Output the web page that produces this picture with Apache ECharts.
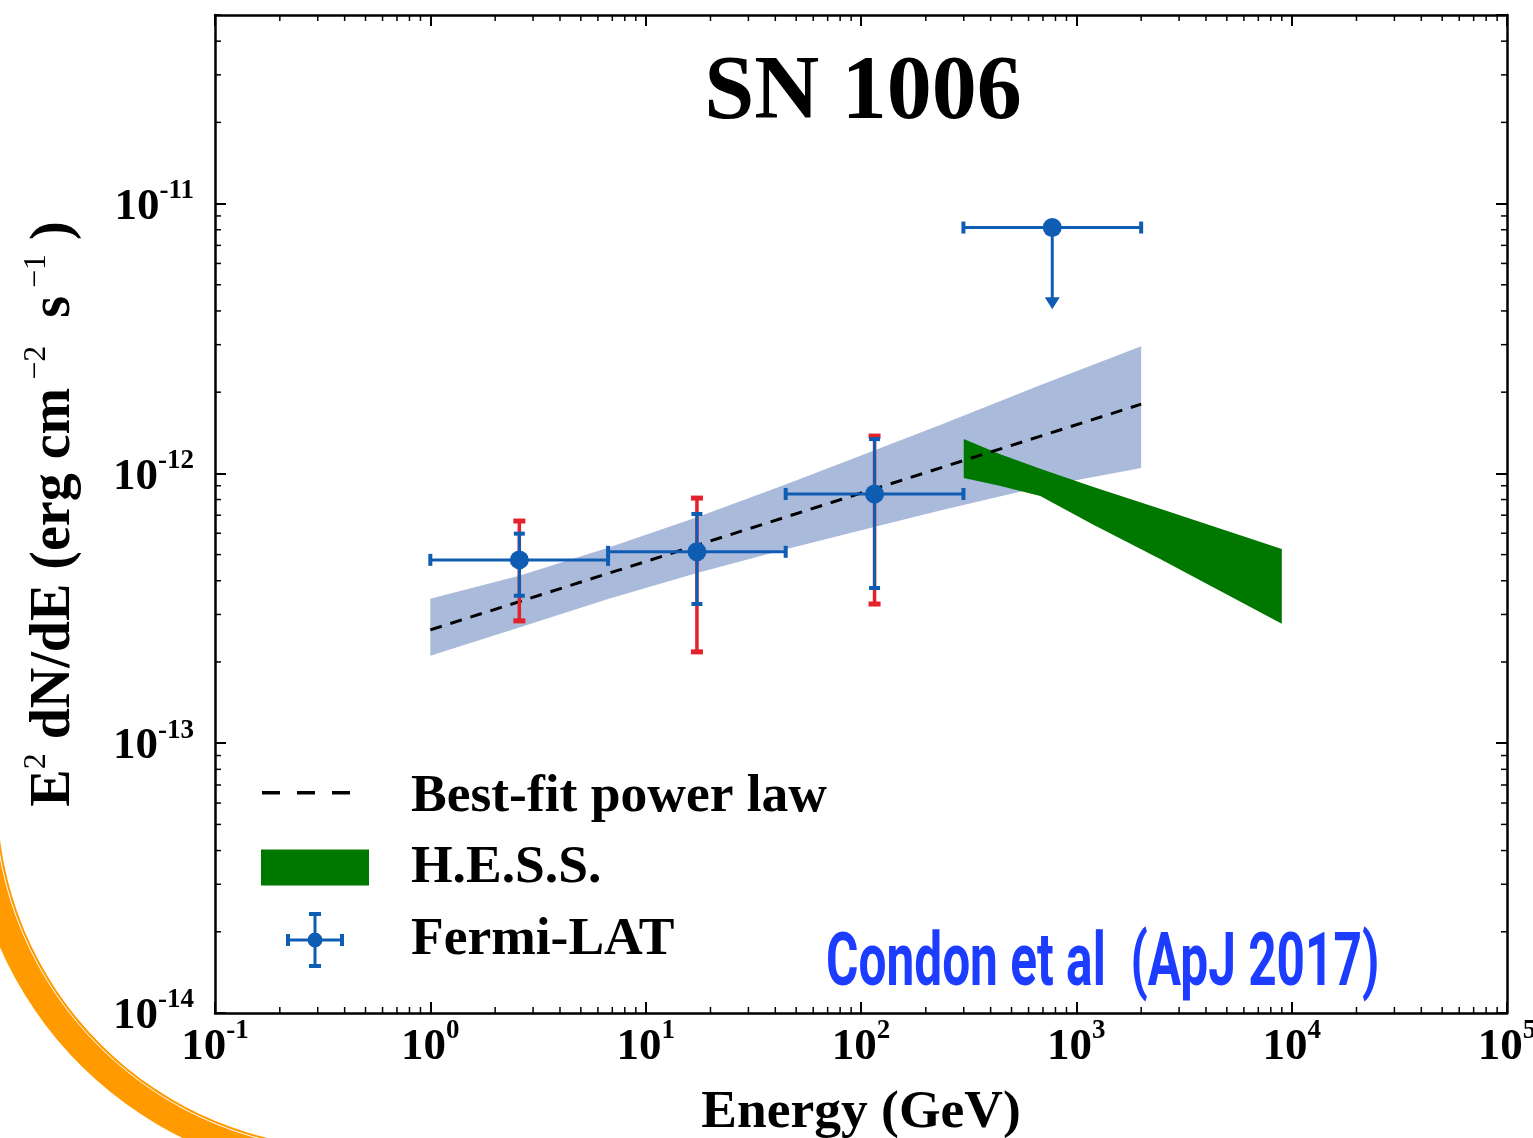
<!DOCTYPE html>
<html>
<head>
<meta charset="utf-8">
<title>SN 1006</title>
<script src="https://cdn.jsdelivr.net/npm/echarts@6/dist/echarts.min.js"></script>
<style>
  html, body { margin: 0; padding: 0; background: #fff; }
  #chart { width: 1533px; height: 1138px; }
</style>
</head>
<body>
<div id="chart"></div>
<script>
// Fermi-LAT flux points, energies in GeV, E^2 dN/dE in erg cm^-2 s^-1
var fermiE = [2.59, 17.3, 115.6];
var fermiElo = [1.0, 6.69, 44.7];
var fermiEhi = [6.69, 44.7, 299];
var fermiF = [4.78e-13, 5.12e-13, 8.39e-13];
var statLo = [3.52e-13, 3.28e-13, 3.76e-13];
var statHi = [5.98e-13, 7.07e-13, 1.34e-12];
var sysLo = [2.84e-13, 2.18e-13, 3.28e-13];
var sysHi = [6.66e-13, 8.10e-13, 1.375e-12];

// upper limit bin
var ulE = [773];
var ulElo = [299];
var ulEhi = [2000];
var ulF = [8.15e-12];
var ulTip = [4.06e-12];

// best-fit power law and its butterfly
var fitE = [1, 2000];
var fitF = [2.63e-13, 1.805e-12];
var bandE = [1, 2.61, 6.69, 17.3, 45.3, 115, 233, 678, 2000];
var bandUp = [3.43e-13, 4.18e-13, 5.30e-13, 6.88e-13, 9.13e-13, 1.215e-12, 1.51e-12, 2.12e-12, 2.96e-12];
var bandLo = [2.11e-13, 2.69e-13, 3.42e-13, 4.27e-13, 5.25e-13, 6.33e-13, 7.28e-13, 8.90e-13, 1.047e-12];

// H.E.S.S. butterfly
var hessE = [300, 440, 680, 1200, 2450, 9000];
var hessUp = [1.34e-12, 1.18e-12, 1.04e-12, 8.9e-13, 7.40e-13, 5.25e-13];
var hessLo = [9.61e-13, 9.0e-13, 8.25e-13, 6.45e-13, 4.82e-13, 2.77e-13];

var X_MIN = 0.1, X_MAX = 1e5, Y_MIN = 1e-14, Y_MAX = 5e-11;

var SERIF = 'Liberation Serif';
var BLUE = '#0f5db3';
var RED = '#e3222b';

// minor ticks at 2..9 x 10^n
var minorX = [], minorY = [];
for (var n = -1; n < 5; n++) {
  for (var k = 2; k < 10; k++) minorX.push(k * Math.pow(10, n));
}
for (var m = -14; m < -10; m++) {
  for (var q = 2; q < 10; q++) {
    var v = q * Math.pow(10, m);
    if (v < Y_MAX) minorY.push(v);
  }
}

var fermiData = fermiE.map(function (e, i) {
  return [e, fermiF[i], fermiElo[i], fermiEhi[i], statLo[i], statHi[i], sysLo[i], sysHi[i]];
});
var ulData = ulE.map(function (e, i) {
  return [e, ulF[i], ulElo[i], ulEhi[i], ulTip[i]];
});

function band(xs, ups, los, color) {
  return function (params, api) {
    var pts = [];
    for (var i = 0; i < xs.length; i++) pts.push(api.coord([xs[i], ups[i]]));
    for (var j = xs.length - 1; j >= 0; j--) pts.push(api.coord([xs[j], los[j]]));
    return { type: 'polygon', shape: { points: pts }, style: { fill: color } };
  };
}

function seg(x1, y1, x2, y2, color, w) {
  return { type: 'line', shape: { x1: x1, y1: y1, x2: x2, y2: y2 }, style: { stroke: color, lineWidth: w } };
}
function box(cx, cy, w, h, color) {
  return { type: 'rect', shape: { x: cx - w / 2, y: cy - h / 2, width: w, height: h }, style: { fill: color } };
}

function renderFermi(params, api) {
  var e = api.value(0), f = api.value(1);
  var c = api.coord([e, f]);
  var xl = api.coord([api.value(2), f])[0];
  var xr = api.coord([api.value(3), f])[0];
  var s0 = api.coord([e, api.value(4)])[1];
  var s1 = api.coord([e, api.value(5)])[1];
  var t0 = api.coord([e, api.value(6)])[1];
  var t1 = api.coord([e, api.value(7)])[1];
  return {
    type: 'group',
    children: [
      seg(c[0], t1, c[0], t0, RED, 3.5),
      box(c[0], t1, 12, 5, RED),
      box(c[0], t0, 12, 5, RED),
      seg(c[0], s1, c[0], s0, BLUE, 3),
      box(c[0], s1, 11, 4, BLUE),
      box(c[0], s0, 11, 4, BLUE),
      seg(xl, c[1], xr, c[1], BLUE, 3),
      box(xl, c[1], 4, 12, BLUE),
      box(xr, c[1], 4, 12, BLUE),
      { type: 'circle', shape: { cx: c[0], cy: c[1], r: 9.5 }, style: { fill: BLUE } }
    ]
  };
}

function renderUL(params, api) {
  var e = api.value(0), f = api.value(1);
  var c = api.coord([e, f]);
  var xl = api.coord([api.value(2), f])[0];
  var xr = api.coord([api.value(3), f])[0];
  var tip = api.coord([e, api.value(4)])[1];
  return {
    type: 'group',
    children: [
      seg(xl, c[1], xr, c[1], BLUE, 3),
      box(xl, c[1], 4, 12, BLUE),
      box(xr, c[1], 4, 12, BLUE),
      seg(c[0], c[1], c[0], tip - 8, BLUE, 3),
      { type: 'polygon', shape: { points: [[c[0] - 7.5, tip - 12], [c[0] + 7.5, tip - 12], [c[0], tip]] }, style: { fill: BLUE } },
      { type: 'circle', shape: { cx: c[0], cy: c[1], r: 9.5 }, style: { fill: BLUE } }
    ]
  };
}

function renderMinor(params, api) {
  var cs = params.coordSys;
  var kids = [];
  minorX.forEach(function (v) {
    var x = api.coord([v, Y_MIN])[0];
    kids.push(seg(x, cs.y + cs.height, x, cs.y + cs.height - 6, '#000', 1.5));
    kids.push(seg(x, cs.y, x, cs.y + 6, '#000', 1.5));
  });
  minorY.forEach(function (v) {
    var y = api.coord([X_MIN, v])[1];
    kids.push(seg(cs.x, y, cs.x + 6, y, '#000', 1.5));
    kids.push(seg(cs.x + cs.width, y, cs.x + cs.width - 6, y, '#000', 1.5));
  });
  return { type: 'group', children: kids };
}

function powLabel(v) {
  return '{b|10}{s|' + Math.round(Math.log10(v)) + '}';
}
var powRich = {
  b: { fontFamily: SERIF, fontWeight: 'bold', fontSize: 45, lineHeight: 52, verticalAlign: 'bottom', color: '#000' },
  s: { fontFamily: SERIF, fontWeight: 'bold', fontSize: 27, lineHeight: 28, verticalAlign: 'top', color: '#000' }
};

var axisLine = { show: true, lineStyle: { color: '#000', width: 2.5 } };
var majorTick = { show: true, inside: true, length: 11, lineStyle: { color: '#000', width: 2 } };

var chart = echarts.init(document.getElementById('chart'));
chart.setOption({
  animation: false,
  backgroundColor: '#fff',
  title: {
    text: 'SN 1006',
    left: 858,
    top: 45,
    textAlign: 'center',
    textStyle: { fontFamily: SERIF, fontWeight: 'bold', fontSize: 90, color: '#000' }
  },
  legend: {
    orient: 'vertical',
    left: 256,
    top: 764,
    itemWidth: 145,
    itemHeight: 56,
    itemGap: 15.5,
    selectedMode: false,
    textStyle: { fontFamily: SERIF, fontWeight: 'bold', fontSize: 53.5, color: '#000' },
    data: [
      {
        name: 'Best-fit power law',
        icon: 'path://M0,0L0,0M145,56L145,56M1,22H19V25.5H1ZM36,22H54V25.5H36ZM71,22H89V25.5H71Z',
        itemStyle: { color: '#000', borderWidth: 0 }
      },
      {
        name: 'H.E.S.S.',
        icon: 'path://M0,0L0,0M145,56L145,56M0,9H108V45H0Z',
        itemStyle: { color: '#007800', borderWidth: 0 }
      },
      {
        name: 'Fermi-LAT',
        icon: 'path://M0,0L0,0M145,56L145,56M26,26.5H82V29.5H26ZM25,22H29V34H25ZM79,22H83V34H79ZM52.5,1H55.5V55H52.5ZM48,0H60V4H48ZM48,52H60V56H48ZM61.5,28A7.5,7.5,0,1,1,46.5,28A7.5,7.5,0,1,1,61.5,28Z',
        itemStyle: { color: BLUE, borderWidth: 0 }
      }
    ]
  },
  grid: { left: 215, right: 26, top: 15, bottom: 125, containLabel: false, outerBoundsMode: 'none' },
  xAxis: [
    {
      type: 'log', min: X_MIN, max: X_MAX, logBase: 10, splitNumber: 6,
      position: 'bottom',
      name: 'Energy (GeV)', nameLocation: 'middle', nameGap: 73,
      nameTextStyle: { fontFamily: SERIF, fontWeight: 'bold', fontSize: 53.5, color: '#000' },
      axisLine: axisLine, axisTick: majorTick, splitLine: { show: false },
      axisLabel: { show: true, margin: 5, formatter: powLabel, rich: powRich }
    },
    {
      type: 'log', min: X_MIN, max: X_MAX, logBase: 10, splitNumber: 6,
      position: 'top',
      axisLine: axisLine, axisTick: majorTick, splitLine: { show: false },
      axisLabel: { show: false }
    }
  ],
  yAxis: [
    {
      type: 'log', min: Y_MIN, max: Y_MAX, logBase: 10,
      position: 'left',
      name: '{b|E}{s|2}{b| dN/dE (erg cm}{s| \u22122}{b|  s}{s| \u22121}{b| )}',
      nameLocation: 'middle', nameGap: 132, nameRotate: 90,
      nameTextStyle: {
        rich: {
          b: { fontFamily: SERIF, fontWeight: 'bold', fontSize: 56, lineHeight: 62, verticalAlign: 'bottom', color: '#000' },
          s: { fontFamily: SERIF, fontSize: 32, lineHeight: 32, verticalAlign: 'top', color: '#000' }
        }
      },
      axisLine: axisLine, axisTick: majorTick, splitLine: { show: false },
      axisLabel: { show: true, margin: 21, formatter: powLabel, rich: powRich, showMaxLabel: false }
    },
    {
      type: 'log', min: Y_MIN, max: Y_MAX, logBase: 10,
      position: 'right',
      axisLine: axisLine, axisTick: majorTick, splitLine: { show: false },
      axisLabel: { show: false }
    }
  ],
  graphic: [
    {
      type: 'sector',
      z: 100,
      silent: true,
      shape: { cx: 351, cy: 794, r0: 354, r: 383, startAngle: Math.PI * 0.45, endAngle: Math.PI },
      style: { fill: '#ff9a00' }
    },
    {
      type: 'arc',
      z: 101,
      silent: true,
      shape: { cx: 351, cy: 794, r: 356.5, startAngle: Math.PI * 0.45, endAngle: Math.PI },
      style: { stroke: '#fff', lineWidth: 1, fill: null }
    },
    {
      type: 'text',
      z: 100,
      x: 826,
      y: 966,
      scaleX: 0.67,
      style: {
        text: 'Condon et al  (ApJ 2017)',
        font: 'bold 74px Roboto',
        fill: '#1c3cff',
        textAlign: 'left',
        textVerticalAlign: 'middle'
      }
    }
  ],
  series: [
    {
      name: 'Fermi-LAT best-fit band',
      type: 'custom',
      z: 1,
      silent: true,
      encode: { x: 0, y: 1 },
      data: [[bandE[0], bandUp[0]]],
      renderItem: band(bandE, bandUp, bandLo, '#aabada')
    },
    {
      name: 'H.E.S.S.',
      type: 'custom',
      z: 2,
      silent: true,
      encode: { x: 0, y: 1 },
      data: [[hessE[0], hessUp[0]]],
      renderItem: band(hessE, hessUp, hessLo, '#007800')
    },
    {
      name: 'Best-fit power law',
      type: 'line',
      z: 3,
      symbol: 'none',
      silent: true,
      data: fitE.map(function (e, i) { return [e, fitF[i]]; }),
      lineStyle: { color: '#000', width: 3, type: [12, 9] }
    },
    {
      name: 'Fermi-LAT',
      type: 'custom',
      z: 4,
      silent: true,
      encode: { x: 0, y: 1 },
      data: fermiData,
      renderItem: renderFermi
    },
    {
      name: 'Fermi-LAT upper limit',
      type: 'custom',
      z: 4,
      silent: true,
      encode: { x: 0, y: 1 },
      data: ulData,
      renderItem: renderUL
    },
    {
      name: 'minor ticks',
      type: 'custom',
      z: 5,
      silent: true,
      encode: { x: 0, y: 1 },
      data: [[1, 1e-12]],
      renderItem: renderMinor
    }
  ]
});
</script>
</body>
</html>
